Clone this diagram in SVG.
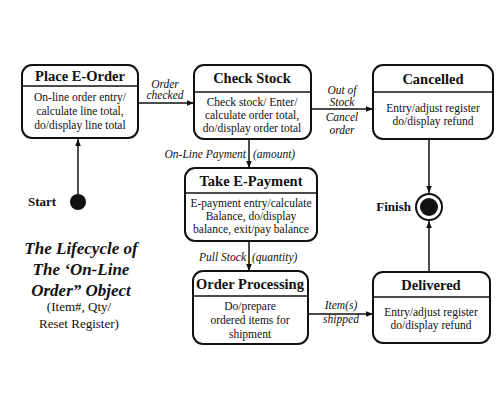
<svg xmlns="http://www.w3.org/2000/svg" width="497" height="407" viewBox="0 0 497 407">
<defs>
<marker id="arr" viewBox="0 0 10 10" refX="10" refY="5" markerWidth="7" markerHeight="7" markerUnits="userSpaceOnUse" orient="auto">
<path d="M0,1 L10,5 L0,9 z" fill="#111"/>
</marker>
<style>
.box{fill:#fff;stroke:#111;stroke-width:2}
.div{stroke:#111;stroke-width:1.3}
.t{font-family:"Liberation Serif","Times New Roman","DejaVu Serif",serif;font-weight:bold;font-size:14.5px;text-anchor:middle;fill:#111}
.b{font-family:"Liberation Serif","Times New Roman","DejaVu Serif",serif;font-size:11.5px;text-anchor:middle;fill:#111}
.l{font-family:"Liberation Serif","Times New Roman","DejaVu Serif",serif;font-style:italic;font-size:11.5px;text-anchor:middle;fill:#111}
.c{stroke:#111;stroke-width:1.5;fill:none;marker-end:url(#arr)}
</style>
</defs>
<rect width="497" height="407" fill="#fff"/>
<g id="connectors">
<line class="c" x1="78" y1="194" x2="78" y2="139"/>
<line class="c" x1="138" y1="103" x2="194" y2="103"/>
<line class="c" x1="311" y1="109" x2="373" y2="109"/>
<line class="c" x1="429" y1="139" x2="429" y2="193"/>
<line class="c" x1="249" y1="139" x2="249" y2="168"/>
<line class="c" x1="249" y1="241" x2="249" y2="271"/>
<line class="c" x1="308" y1="314" x2="373" y2="314"/>
<line class="c" x1="429" y1="272" x2="429" y2="221"/>
<text class="l" x="165" y="88">Order</text>
<text class="l" x="165" y="99">checked</text>
<text class="l" x="342" y="94">Out of</text>
<text class="l" x="342" y="106">Stock</text>
<text class="l" x="342" y="121">Cancel</text>
<text class="l" x="342" y="134">order</text>
<text class="l" x="246" y="158" style="text-anchor:end">On-Line Payment</text>
<text class="l" x="253" y="158" style="text-anchor:start">(amount)</text>
<text class="l" x="246" y="261" style="text-anchor:end">Pull Stock</text>
<text class="l" x="252" y="261" style="text-anchor:start">(quantity)</text>
<text class="l" x="341" y="309">Item(s)</text>
<text class="l" x="341" y="323">shipped</text>
</g>
<g id="start">
<circle cx="78" cy="202" r="8" fill="#111"/>
<text class="t" x="42" y="206" style="font-size:13px">Start</text>
</g>
<g id="finish">
<circle cx="429" cy="207" r="13" fill="#fff" stroke="#111" stroke-width="2"/>
<circle cx="429" cy="207" r="9" fill="#111"/>
<text class="t" x="411" y="211" style="font-size:13px;text-anchor:end">Finish</text>
</g>
<g id="place-e-order">
<rect class="box" x="22" y="65" width="116" height="73" rx="10"/>
<line class="div" x1="22" y1="86" x2="138" y2="86"/>
<text class="t" x="80" y="81">Place E-Order</text>
<text class="b" x="80" y="101">On-line order entry/</text>
<text class="b" x="80" y="115">calculate line total,</text>
<text class="b" x="80" y="129">do/display line total</text>
</g>
<g id="check-stock">
<rect class="box" x="194" y="65" width="117" height="74" rx="10"/>
<line class="div" x1="194" y1="92" x2="311" y2="92"/>
<text class="t" x="252" y="83">Check Stock</text>
<text class="b" x="252" y="106">Check stock/ Enter/</text>
<text class="b" x="252" y="119">calculate order total,</text>
<text class="b" x="252" y="132">do/display order total</text>
</g>
<g id="cancelled">
<rect class="box" x="373" y="65" width="120" height="74" rx="10"/>
<line class="div" x1="373" y1="92" x2="493" y2="92"/>
<text class="t" x="433" y="84">Cancelled</text>
<text class="b" x="433" y="112">Entry/adjust register</text>
<text class="b" x="433" y="125">do/display refund</text>
</g>
<g id="take-e-payment">
<rect class="box" x="185" y="168" width="132" height="73" rx="10"/>
<line class="div" x1="185" y1="193" x2="317" y2="193"/>
<text class="t" x="251" y="186">Take E-Payment</text>
<text class="b" x="251" y="207">E-payment entry/calculate</text>
<text class="b" x="251" y="220">Balance, do/display</text>
<text class="b" x="251" y="233">balance, exit/pay balance</text>
</g>
<g id="order-processing">
<rect class="box" x="193" y="271" width="115" height="73" rx="10"/>
<line class="div" x1="193" y1="296" x2="308" y2="296"/>
<text class="t" x="250" y="289">Order Processing</text>
<text class="b" x="250" y="310">Do/prepare</text>
<text class="b" x="250" y="324">ordered items for</text>
<text class="b" x="250" y="338">shipment</text>
</g>
<g id="delivered">
<rect class="box" x="373" y="272" width="117" height="71" rx="10"/>
<line class="div" x1="373" y1="297" x2="490" y2="297"/>
<text class="t" x="431" y="290">Delivered</text>
<text class="b" x="431" y="316">Entry/adjust register</text>
<text class="b" x="431" y="329">do/display refund</text>
</g>
<g id="title">
<text class="t" x="81" y="254" style="font-style:italic;font-size:17px">The Lifecycle of</text>
<text class="t" x="81" y="275" style="font-style:italic;font-size:17px">The ‘On-Line</text>
<text class="t" x="81" y="296" style="font-style:italic;font-size:17px">Order” Object</text>
<text class="b" x="79" y="311" style="font-size:13px">(Item#, Qty/</text>
<text class="b" x="79" y="328" style="font-size:13px">Reset Register)</text>
</g>
</svg>
